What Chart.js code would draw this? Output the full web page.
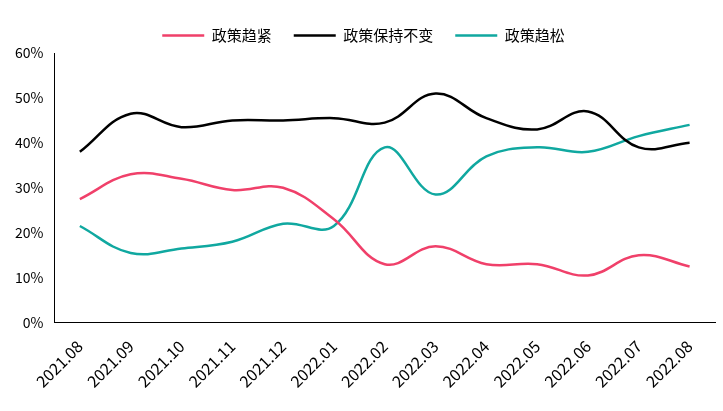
<!DOCTYPE html>
<html>
<head>
<meta charset="utf-8">
<script src="https://cdn.jsdelivr.net/npm/chart.js@4/dist/chart.umd.min.js"></script>
<style>
  body { margin: 0; background: #fff; }
  #wrap { width: 723px; height: 411px; }
</style>
</head>
<body>
<div id="wrap"><canvas id="chart"></canvas></div>
<script>
// Data
const months = ['2021.08', '2021.09', '2021.10', '2021.11', '2021.12', '2022.01', '2022.02',
    '2022.03', '2022.04', '2022.05', '2022.06', '2022.07', '2022.08'];
const tighten = [27.5, 33, 32, 29.5, 30, 23, 13, 17, 13, 13, 10.5, 15, 12.5];
const unchanged = [38, 46.5, 43.5, 45, 45, 45.5, 44.5, 51, 45.5, 43, 47, 39, 40];
const loosen = [21.5, 15.5, 16.5, 18, 22, 21.5, 39, 28.5, 37, 39, 38, 41.5, 44];

const font = "'Noto Sans CJK SC', 'DejaVu Sans', sans-serif";

function series(label, data, color) {
    return {
        label: label,
        data: data,
        borderColor: color,
        backgroundColor: color,
        borderWidth: 2.5,
        pointRadius: 0,
        tension: 0.4
    };
}

new Chart(document.getElementById('chart').getContext('2d'), {
    type: 'line',
    data: {
        labels: months,
        datasets: [
            series('政策趋紧', tighten, '#f0406a'),
            series('政策保持不变', unchanged, '#000000'),
            series('政策趋松', loosen, '#10a8a0')
        ]
    },
    options: {
        responsive: true,
        maintainAspectRatio: false,
        animation: false,
        layout: { padding: { left: 12, right: 8, top: 6, bottom: 14 } },
        scales: {
            x: {
                offset: true,
                grid: { display: false },
                border: { color: '#000' },
                ticks: {
                    color: '#000',
                    maxRotation: 45,
                    minRotation: 45,
                    padding: 6,
                    font: { family: font, size: 16 }
                }
            },
            y: {
                min: 0,
                max: 60,
                grid: { display: false },
                border: { color: '#000' },
                ticks: {
                    stepSize: 10,
                    color: '#000',
                    font: { family: font, size: 14 },
                    callback: v => v + '%'
                }
            }
        },
        plugins: {
            legend: {
                position: 'top',
                labels: {
                    color: '#000',
                    boxWidth: 42,
                    boxHeight: 0,
                    padding: 22,
                    font: { family: font, size: 15 }
                }
            },
            tooltip: { enabled: false }
        }
    }
});
</script>
</body>
</html>
